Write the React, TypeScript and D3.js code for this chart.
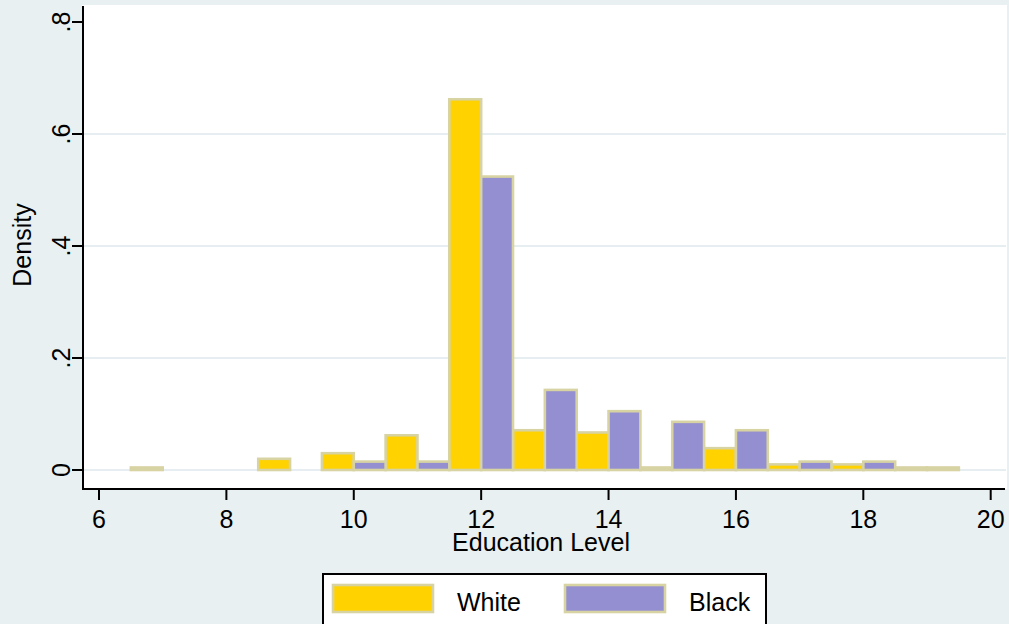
import React from "react";
import * as d3 from "d3";

const whiteStarts = [6.5, 8.5, 9.5, 10.5, 11.5, 12.5, 13.5, 14.5, 15.5, 16.5, 17.5, 18.5];
const whiteDensity = [0.0045, 0.02, 0.03, 0.062, 0.662, 0.071, 0.067, 0.0045, 0.039, 0.01, 0.01, 0.0045];
const blackStarts = [10, 11, 12, 13, 14, 15, 16, 17, 18, 19];
const blackDensity = [0.015, 0.015, 0.524, 0.143, 0.105, 0.086, 0.071, 0.015, 0.015, 0.0045];
const binWidth = 0.5;
const xTicks = [6, 8, 10, 12, 14, 16, 18, 20];
const yTicks = [0, 0.2, 0.4, 0.6, 0.8];
const yTickLabels = ["0", ".2", ".4", ".6", ".8"];
const gridTicks = [0, 0.2, 0.4, 0.6];
const seriesNames = ["White", "Black"];

const W = 1009;
const H = 624;
const BG = "#e8f0f2";
const GRID = "#e6eef1";
const YELLOW = "#ffd200";
const PURPLE = "#948fd0";
const OUTLINE = "#d8d3a3";
const FONT = "'Liberation Sans', Arial, Helvetica, sans-serif";

export default function App() {
  const x = d3.scaleLinear().domain([6, 20]).range([99, 990.7]);
  const y = d3.scaleLinear().domain([0, 0.8]).range([470, 22]);
  const plotLeft = 83;
  const plotRight = 1006;
  const plotTop = 6;
  const plotBottom = 489;

  const white = whiteStarts.map((s, i) => ({ s, v: whiteDensity[i] }));
  const black = blackStarts.map((s, i) => ({ s, v: blackDensity[i] }));

  const bar = (d: { s: number; v: number }, fill: string, key: string) => (
    <rect
      key={key}
      x={x(d.s)}
      y={y(d.v)}
      width={x(d.s + binWidth) - x(d.s)}
      height={y(0) - y(d.v)}
      fill={fill}
      stroke={OUTLINE}
      strokeWidth={2.6}
    />
  );

  return (
    <svg
      width={W}
      height={H}
      style={{ position: "absolute", left: 0, top: 0, display: "block" }}
      fontFamily={FONT}
    >
      <rect x={0} y={0} width={W} height={H} fill={BG} />
      <rect x={plotLeft - 1} y={5} width={1007 - plotLeft + 1} height={plotBottom - 5} fill="#ffffff" />
      {gridTicks.map((t) => (
        <line key={"g" + t} x1={plotLeft} x2={plotRight} y1={y(t)} y2={y(t)} stroke={GRID} strokeWidth={2} />
      ))}
      {white.map((d, i) => bar(d, YELLOW, "w" + i))}
      {black.map((d, i) => bar(d, PURPLE, "b" + i))}

      {/* y axis */}
      <line x1={plotLeft} x2={plotLeft} y1={plotTop} y2={plotBottom + 1} stroke="#000" strokeWidth={2} />
      {yTicks.map((t, i) => (
        <g key={"yt" + t}>
          <line x1={72} x2={plotLeft} y1={y(t)} y2={y(t)} stroke="#000" strokeWidth={2} />
          <text
            transform={`translate(70,${y(t)}) rotate(-90)`}
            textAnchor="middle"
            fontSize={25}
            fill="#000"
          >
            {yTickLabels[i]}
          </text>
        </g>
      ))}
      <text transform={`translate(31,245) rotate(-90)`} textAnchor="middle" fontSize={25} fill="#000">
        Density
      </text>

      {/* x axis */}
      <line x1={plotLeft - 1} x2={1005} y1={plotBottom} y2={plotBottom} stroke="#000" strokeWidth={2} />
      {xTicks.map((t) => (
        <g key={"xt" + t}>
          <line x1={x(t)} x2={x(t)} y1={plotBottom} y2={plotBottom + 11} stroke="#000" strokeWidth={2} />
          <text x={x(t)} y={528} textAnchor="middle" fontSize={25} fill="#000">
            {t}
          </text>
        </g>
      ))}
      <text x={541} y={551} textAnchor="middle" fontSize={25} fill="#000">
        Education Level
      </text>

      {/* legend */}
      <rect x={323} y={574} width={443} height={60} fill="#fff" stroke="#000" strokeWidth={2} />
      <rect x={333} y={585} width={100} height={27} fill={YELLOW} stroke={OUTLINE} strokeWidth={2.6} />
      <text x={457} y={611} fontSize={25} fill="#000">{seriesNames[0]}</text>
      <rect x={565} y={585} width={100} height={27} fill={PURPLE} stroke={OUTLINE} strokeWidth={2.6} />
      <text x={689} y={611} fontSize={25} fill="#000">{seriesNames[1]}</text>
    </svg>
  );
}
